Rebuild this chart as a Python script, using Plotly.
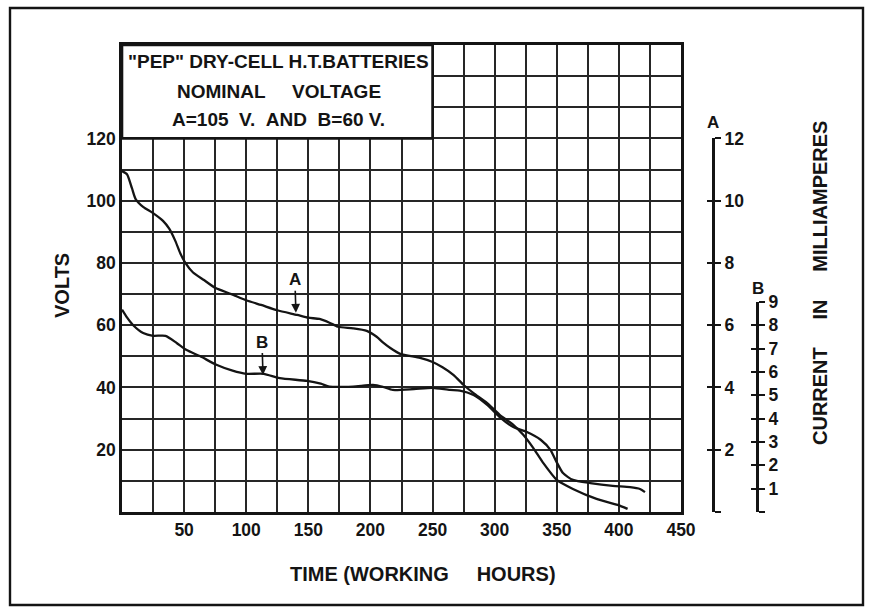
import plotly.graph_objects as go

# ---- discharge curves: working hours vs terminal volts ----
hours_a = [0, 4, 8, 11, 17, 25, 33, 38, 43, 47, 51, 57, 66, 75, 88, 100, 112, 125,
           141, 150, 159, 167, 174, 186, 197, 205, 210, 216, 224, 240, 250, 258,
           267, 275, 283, 294, 304, 315, 323, 331, 339, 350, 363, 382, 399, 407]
volts_a = [109.5, 108.5, 104, 100.5, 98, 96, 93.5, 91, 87, 83, 80, 77, 74.5, 72, 70,
           68, 66.5, 64.8, 63.3, 62.4, 62, 60.8, 59.5, 59, 58.2, 56.3, 54.5, 52.7,
           50.8, 49.5, 48.2, 46.5, 44, 40.8, 38.2, 35, 31.2, 28, 24.8, 20.6, 15.8,
           10.3, 7.4, 4.2, 2.3, 1.0]

hours_b = [0, 4, 9, 17, 25, 35, 44, 52, 63, 76, 89, 100, 114, 127, 149, 160, 167,
           186, 202, 210, 218, 235, 250, 264, 272, 283, 294, 304, 315, 326, 337,
           345, 349, 355, 363, 377, 395, 409, 417, 421]
volts_b = [65, 62.5, 60, 57.5, 56.6, 56.6, 54.3, 52, 50, 47.3, 45.4, 44.4, 44.4, 43,
           42.1, 41.2, 40.3, 40.3, 40.8, 40.2, 39.2, 39.5, 39.9, 39.2, 39.0, 37.6,
           34.4, 30.5, 27.3, 25.7, 23.2, 19.9, 16.7, 12.5, 10.3, 9.3, 8.4, 8.0, 7.4,
           6.4]

# ---- scales ----
x_tick_labels = [50, 100, 150, 200, 250, 300, 350, 400, 450]
y_tick_labels = [20, 40, 60, 80, 100, 120]
current_a_ticks = [0, 2, 4, 6, 8, 10, 12]
current_b_ticks = [0, 1, 2, 3, 4, 5, 6, 7, 8, 9]

title_lines = ['"PEP" DRY-CELL H.T.BATTERIES',
               'NOMINAL\u00a0\u00a0\u00a0\u00a0 VOLTAGE',
               'A=105\u00a0\u00a0V.\u00a0\u00a0AND\u00a0\u00a0B=60 V.']

INK = "#141414"
GRID = "#262626"
FONT = "Liberation Sans, Arial, sans-serif"

W, H = 878, 616
ML, MR, MT, MB = 122, 10, 45, 104
PW, PH = W - ML - MR, H - MT - MB
X_DOMAIN_END = 559 / PW


def px_x(p):
    return (p - ML) / PW


def px_y(p):
    return (H - MB - p) / PH


fig = go.Figure()

curve_style = dict(color=INK, width=2.3, shape="spline", smoothing=0.6)
fig.add_trace(go.Scatter(x=hours_a, y=volts_a, mode="lines", line=curve_style,
                         hoverinfo="skip", showlegend=False))
fig.add_trace(go.Scatter(x=hours_b, y=volts_b, mode="lines", line=curve_style,
                         hoverinfo="skip", showlegend=False))

# invisible anchors so the current scales get drawn
for ya in ["y2", "y3", "y4", "y5"]:
    fig.add_trace(go.Scatter(x=[0], y=[0], xaxis="x2", yaxis=ya, mode="markers",
                             marker=dict(opacity=0), hoverinfo="skip",
                             showlegend=False))

tick_font = dict(family=FONT, size=17.5, color=INK, weight="bold")

fig.update_layout(
    width=W, height=H,
    margin=dict(l=ML, r=MR, t=MT, b=MB, autoexpand=False),
    paper_bgcolor="white", plot_bgcolor="rgba(0,0,0,0)",
    showlegend=False,
    xaxis=dict(
        domain=[0, X_DOMAIN_END], range=[0, 450],
        tickmode="array", tickvals=x_tick_labels,
        ticktext=[str(v) for v in x_tick_labels],
        tickfont=tick_font, ticks="",
        showgrid=True, gridcolor=GRID, gridwidth=1.5,
        minor=dict(tickmode="linear", tick0=0, dtick=25, showgrid=True,
                   gridcolor=GRID, gridwidth=1.5, ticks=""),
        showline=True, mirror=True, linecolor=INK, linewidth=2.6,
        zeroline=False, fixedrange=True, anchor="y", automargin=False,
    ),
    yaxis=dict(
        range=[0, 150],
        tickmode="array", tickvals=y_tick_labels,
        ticktext=[str(v) for v in y_tick_labels],
        tickfont=tick_font, ticks="", ticklabelstandoff=0,
        showgrid=True, gridcolor=GRID, gridwidth=1.5,
        minor=dict(tickmode="linear", tick0=0, dtick=10, showgrid=True,
                   gridcolor=GRID, gridwidth=1.5, ticks=""),
        showline=True, mirror=True, linecolor=INK, linewidth=2.6,
        zeroline=False, fixedrange=True, anchor="x", automargin=False,
    ),
    xaxis2=dict(domain=[0, X_DOMAIN_END], range=[0, 450], visible=False,
                anchor="y2", fixedrange=True, showgrid=False, automargin=False),
    # current scale for battery A (0-12 mA)
    yaxis2=dict(
        domain=[0, 120 / 150], range=[0, 12],
        anchor="free", position=px_x(713), side="right",
        tickmode="array", tickvals=current_a_ticks,
        ticktext=["" if v == 0 else str(v) for v in current_a_ticks],
        tickfont=tick_font, ticks="outside", ticklen=6, tickwidth=2,
        tickcolor=INK, showline=True, linecolor=INK, linewidth=3,
        showgrid=False, zeroline=False, fixedrange=True, automargin=False,
    ),
    yaxis4=dict(
        overlaying="y2", range=[0, 12],
        anchor="free", position=px_x(713), side="right",
        tickmode="array", tickvals=current_a_ticks, showticklabels=False,
        ticks="inside", ticklen=6, tickwidth=2, tickcolor=INK,
        showline=False, showgrid=False, zeroline=False, fixedrange=True,
        automargin=False,
    ),
    # current scale for battery B (0-9 mA)
    yaxis3=dict(
        domain=[0, 210 / PH], range=[0, 9],
        anchor="free", position=px_x(757), side="right",
        tickmode="array", tickvals=current_b_ticks,
        ticktext=["" if v == 0 else str(v) for v in current_b_ticks],
        tickfont=tick_font, ticks="outside", ticklen=6, tickwidth=2,
        tickcolor=INK, showline=True, linecolor=INK, linewidth=3,
        showgrid=False, zeroline=False, fixedrange=True, automargin=False,
    ),
    yaxis5=dict(
        overlaying="y3", range=[0, 9],
        anchor="free", position=px_x(757), side="right",
        tickmode="array", tickvals=current_b_ticks, showticklabels=False,
        ticks="inside", ticklen=6, tickwidth=2, tickcolor=INK,
        showline=False, showgrid=False, zeroline=False, fixedrange=True,
        automargin=False,
    ),
)

# legend box in the upper-left of the grid
fig.add_shape(type="rect", xref="x", yref="y", x0=0, x1=250, y0=120, y1=150,
              fillcolor="white", line=dict(color=INK, width=2.6), layer="above")

# outer frame around the whole figure
fig.add_shape(type="rect", xref="paper", yref="paper",
              x0=px_x(10), x1=px_x(863), y0=px_y(605), y1=px_y(8),
              line=dict(color=INK, width=2.4), fillcolor="rgba(0,0,0,0)",
              layer="above")

centered = dict(xanchor="center", yanchor="middle", showarrow=False)

title_font = dict(family=FONT, size=19, color=INK, weight="bold")
for text, yv in zip(title_lines, [144.7, 135.2, 126.2]):
    fig.add_annotation(x=126, y=yv, xref="x", yref="y", text=text,
                       font=title_font, **centered)

label_font = dict(family=FONT, size=20, color=INK, weight="bold")
fig.add_annotation(x=px_x(62), y=px_y(286), xref="paper", yref="paper",
                   text="VOLTS", textangle=-90, font=label_font, **centered)
fig.add_annotation(x=px_x(423), y=px_y(574), xref="paper", yref="paper",
                   text="TIME (WORKING\u00a0\u00a0\u00a0\u00a0 HOURS)",
                   font=label_font, **centered)
fig.add_annotation(x=px_x(820), y=px_y(283), xref="paper", yref="paper",
                   text="CURRENT\u00a0\u00a0\u00a0\u00a0 IN\u00a0\u00a0\u00a0\u00a0 MILLIAMPERES",
                   textangle=-90, font=label_font, **centered)

scale_font = dict(family=FONT, size=17, color=INK, weight="bold")
fig.add_annotation(x=px_x(713), y=px_y(122), xref="paper", yref="paper",
                   text="A", font=scale_font, **centered)
fig.add_annotation(x=px_x(758), y=px_y(288), xref="paper", yref="paper",
                   text="B", font=scale_font, **centered)

# curve identification arrows
for name, hx, vy in [("A", 140, 64.0), ("B", 113.5, 44.0)]:
    fig.add_annotation(x=hx, y=vy, xref="x", yref="y", text=name,
                       showarrow=True, ax=-1, ay=-33, arrowhead=2,
                       arrowsize=1.1, arrowwidth=1.6, arrowcolor=INK,
                       font=scale_font)

fig.write_html("out.html")
